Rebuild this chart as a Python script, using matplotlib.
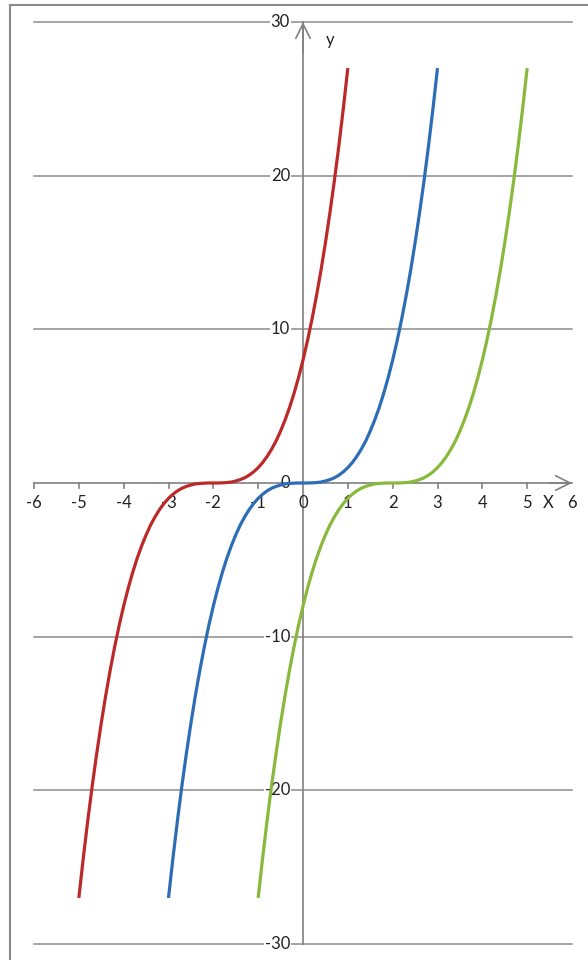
import matplotlib
matplotlib.use("Agg")
import matplotlib.pyplot as plt
from matplotlib.patches import Rectangle

# ---- data ----
x_blue = [-3.0, -2.9, -2.8, -2.7, -2.6, -2.5, -2.4, -2.3, -2.2, -2.1, -2.0, -1.9, -1.8, -1.7, -1.6,
          -1.5, -1.4, -1.3, -1.2, -1.1, -1.0, -0.9, -0.8, -0.7, -0.6, -0.5, -0.4, -0.3, -0.2, -0.1,
          0.0, 0.1, 0.2, 0.3, 0.4, 0.5, 0.6, 0.7, 0.8, 0.9, 1.0, 1.1, 1.2, 1.3, 1.4, 1.5, 1.6, 1.7,
          1.8, 1.9, 2.0, 2.1, 2.2, 2.3, 2.4, 2.5, 2.6, 2.7, 2.8, 2.9, 3.0]
x_red = [-5.0, -4.9, -4.8, -4.7, -4.6, -4.5, -4.4, -4.3, -4.2, -4.1, -4.0, -3.9, -3.8, -3.7, -3.6,
         -3.5, -3.4, -3.3, -3.2, -3.1, -3.0, -2.9, -2.8, -2.7, -2.6, -2.5, -2.4, -2.3, -2.2, -2.1,
         -2.0, -1.9, -1.8, -1.7, -1.6, -1.5, -1.4, -1.3, -1.2, -1.1, -1.0, -0.9, -0.8, -0.7, -0.6,
         -0.5, -0.4, -0.3, -0.2, -0.1, 0.0, 0.1, 0.2, 0.3, 0.4, 0.5, 0.6, 0.7, 0.8, 0.9, 1.0]
x_green = [-1.0, -0.9, -0.8, -0.7, -0.6, -0.5, -0.4, -0.3, -0.2, -0.1, 0.0, 0.1, 0.2, 0.3, 0.4,
           0.5, 0.6, 0.7, 0.8, 0.9, 1.0, 1.1, 1.2, 1.3, 1.4, 1.5, 1.6, 1.7, 1.8, 1.9, 2.0, 2.1,
           2.2, 2.3, 2.4, 2.5, 2.6, 2.7, 2.8, 2.9, 3.0, 3.1, 3.2, 3.3, 3.4, 3.5, 3.6, 3.7, 3.8,
           3.9, 4.0, 4.1, 4.2, 4.3, 4.4, 4.5, 4.6, 4.7, 4.8, 4.9, 5.0]
y_vals = [-27.0, -24.39, -21.95, -19.68, -17.58, -15.63, -13.82, -12.17, -10.65, -9.26, -8.0,
          -6.86, -5.83, -4.91, -4.1, -3.38, -2.74, -2.2, -1.73, -1.33, -1.0, -0.73, -0.51, -0.34,
          -0.22, -0.13, -0.06, -0.03, -0.01, 0.0, 0.0, 0.0, 0.01, 0.03, 0.06, 0.13, 0.22, 0.34,
          0.51, 0.73, 1.0, 1.33, 1.73, 2.2, 2.74, 3.38, 4.1, 4.91, 5.83, 6.86, 8.0, 9.26, 10.65,
          12.17, 13.82, 15.63, 17.58, 19.68, 21.95, 24.39, 27.0]

x_ticks = [-6, -5, -4, -3, -2, -1, 0, 1, 2, 3, 4, 5, 6]
y_ticks = [-30, -20, -10, 0, 10, 20, 30]

series_colors = ["#BB2A28", "#2C6DB6", "#88B83C"]

# ---- figure ----
fig = plt.figure(figsize=(5.88, 9.6), dpi=100)
fig.patch.set_facecolor("white")
fig.add_artist(Rectangle((10 / 588, -0.05), 1.0, 1.05 - 5 / 960, transform=fig.transFigure,
                         fill=False, edgecolor="#8a8a8a", linewidth=1.5))

ax = fig.add_axes([34 / 588, 16 / 960, 538 / 588, 922 / 960])
ax.set_xlim(-6, 6)
ax.set_ylim(-30, 30)
ax.axis("off")

font = dict(family=["Lato", "DejaVu Sans"], fontsize=12, color="#222222")
grid_c = "#8c8c8c"
axis_c = "#808080"

# horizontal gridlines
for yt in y_ticks:
    if yt != 0:
        ax.plot([-6, 6], [yt, yt], color=grid_c, lw=1.1, clip_on=False, zorder=1)

# x axis with arrow
ax.plot([-6, 6], [0, 0], color=axis_c, lw=1.2, clip_on=False, zorder=2)
ax.annotate("", xy=(6, 0), xytext=(5.5, 0),
            arrowprops=dict(arrowstyle="->", color=axis_c, lw=1.2, mutation_scale=26,
                            shrinkA=0, shrinkB=0), annotation_clip=False)
# y axis with arrow
ax.plot([0, 0], [-30, 30], color=axis_c, lw=1.2, clip_on=False, zorder=2)
ax.annotate("", xy=(0, 30), xytext=(0, 28),
            arrowprops=dict(arrowstyle="->", color=axis_c, lw=1.2, mutation_scale=26,
                            shrinkA=0, shrinkB=0), annotation_clip=False)

# x ticks and labels
for xt in x_ticks:
    if xt not in (0, 6):
        ax.plot([xt, xt], [0, -0.33], color=axis_c, lw=1.2, clip_on=False, zorder=2)
    ax.text(xt, -1.3, str(xt), ha="center", va="center", **font)

# y tick labels
for yt in y_ticks:
    ax.text(-0.29, yt, str(yt), ha="right", va="center",
            bbox=dict(facecolor="white", edgecolor="none", pad=0.5) if yt != 0 else None,
            **font)

ax.text(5.47, -1.3, "X", ha="center", va="center", **font)
ax.text(0.6, 28.8, "y", ha="center", va="center", **font)

# curves
for xs, c in zip([x_red, x_blue, x_green], series_colors):
    ax.plot(xs, y_vals, color=c, lw=2.3, solid_capstyle="butt", zorder=3)

fig.savefig("out.png", dpi=100)
